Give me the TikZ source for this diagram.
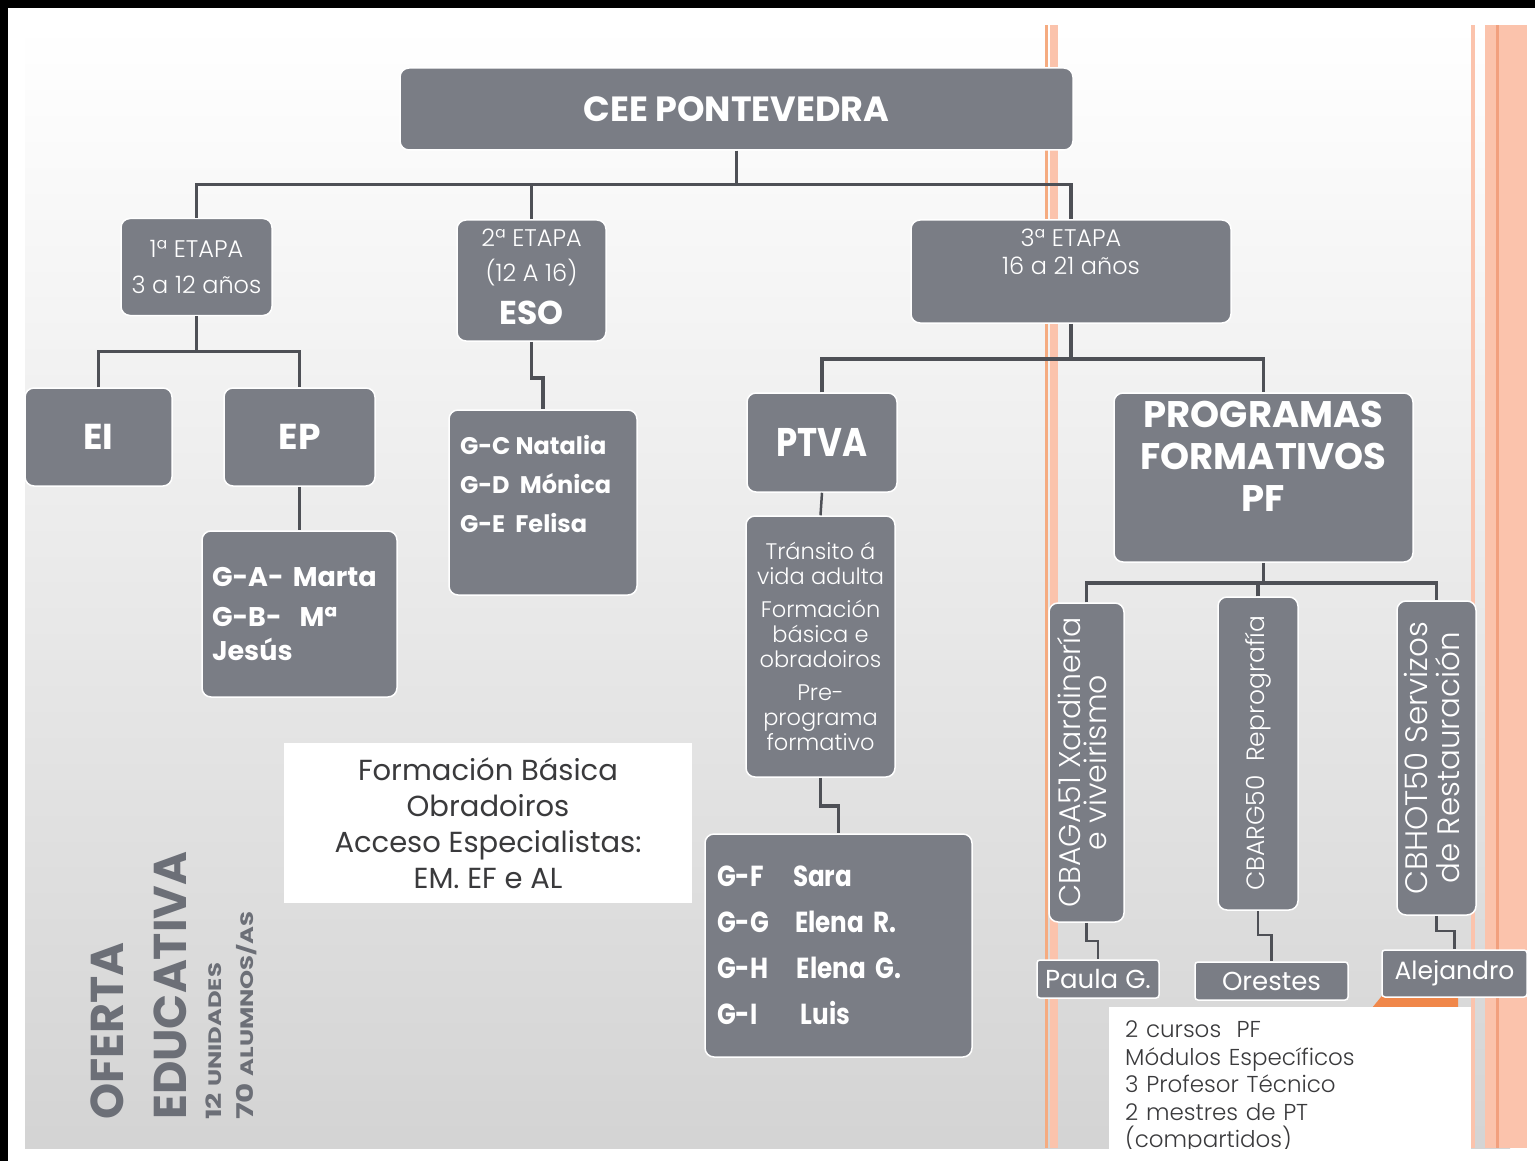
\documentclass[tikz,border=0pt]{standalone}
\usepackage{fontspec}
\setmainfont{Poppins}
\newfontfamily\narrowfont{Poppins}[FakeStretch=0.85]
\newfontfamily\widefont{Poppins}[FakeStretch=1.35]
\IfFontExistsTF{Poppins Light}{\newfontfamily\lightfont{Poppins Light}}{\newfontfamily\lightfont{Poppins}}
\usetikzlibrary{positioning}

\definecolor{boxgray}{HTML}{7A7D85}
\definecolor{linegray}{HTML}{4E5056}
\definecolor{textdark}{HTML}{3A3A3C}
\definecolor{peach}{HTML}{FBC3AC}
\definecolor{peachdark}{HTML}{F2A07E}
\definecolor{orangetab}{HTML}{F0874A}
\definecolor{ofertagray}{HTML}{6C6F77}

\tikzset{
  box/.style={draw=white, line width=1.5pt, fill=boxgray, rounded corners=9pt,
    text=white, inner sep=0pt, align=center},
  conn/.style={draw=linegray, line width=3.5pt},
  thinconn/.style={draw=linegray, line width=2.5pt},
  lighttxt/.style={font=\lightfont\fontsize{24}{36}\selectfont},
  bigtxt/.style={font=\fontsize{36}{42}\selectfont\bfseries},
  grouptxt/.style={font=\fontsize{27}{40}\selectfont\bfseries, align=left},
  namebox/.style={box, rounded corners=3pt, font=\fontsize{26}{28}\selectfont},
  whitenote/.style={fill=white, inner sep=0pt, text=textdark, align=center}
}

\begin{document}
\begin{tikzpicture}[x=1pt, y=-1pt]
    \useasboundingbox (0,0) rectangle (1535,1161);
    % Background
    \fill[white] (0,0) rectangle (1535,1161);
    \shade[top color=white, bottom color=black!17] (25,25) rectangle (1510,1148);
    \fill[black] (0,0) rectangle (1535,8);
    \fill[black] (0,0) rectangle (8,1161);
    % Orange stripes
    \fill[orangetab!70] (1045,25) rectangle (1048,1148);
    \fill[peach] (1050,25) rectangle (1058,1148);
    \fill[peach] (1471,25) rectangle (1475,1148);
    \fill[peach] (1485,25) rectangle (1527,1148);
    \fill[peachdark] (1496,25) rectangle (1499,1148);

    % Nodes
    \node (cee) [box, minimum width=673, minimum height=82, font=\fontsize{35}{40}\selectfont\bfseries] at (736.5,109) {CEE PONTEVEDRA};
    \node (e1) [box, lighttxt, minimum width=151, minimum height=97] at (196.5,267) {1ª ETAPA\\3 a 12 años};
    \node (e2) [box, lighttxt, minimum width=149, minimum height=121] at (531.5,280.5) {\parbox[c][121pt][t]{140pt}{\centering\fontsize{24}{35}\selectfont\vspace{9pt}2ª ETAPA\\(12 A 16)\\[8pt]{\normalfont\fontsize{33}{36}\selectfont\bfseries ESO}}};
    \node (e3) [box, lighttxt, minimum width=320, minimum height=103] at (1071,271.5) {\parbox[c][103pt][t]{300pt}{\centering\fontsize{24}{28}\selectfont\vspace{9pt}3ª ETAPA\\16 a 21 años}};

    \node (ei) [box, bigtxt, minimum width=147, minimum height=98] at (98.5,437) {EI};
    \node (ep) [box, bigtxt, minimum width=151, minimum height=98] at (299.5,437) {EP};
    \node (ga) [box, grouptxt, minimum width=195, minimum height=166, text width=175] at (299.5,614) {G-A- Marta\\G-B-\ \ Mª\\[-6pt]Jesús};
    \node (gc) [box, minimum width=188, minimum height=185] at (543,502.5) {\parbox[c][185pt][t]{166pt}{\raggedright\fontsize{24}{39}\selectfont\bfseries\vspace{25pt}G-C Natalia\\G-D\ \ Mónica\\G-E\ \ Felisa}};

    \node (ptva) [box, font=\narrowfont\fontsize{40}{44}\selectfont\bfseries, minimum width=150, minimum height=99] at (822,442.5) {PTVA};
    \node (pf) [box, minimum width=299, minimum height=169] at (1263.5,477.5) {\parbox[c][169pt][t]{290pt}{\centering\fontsize{37}{42}\selectfont\bfseries\vspace{8pt}PROGRAMAS\\FORMATIVOS\\PF}};

    \node (trans) [box, font=\lightfont\fontsize{22.5}{25}\selectfont, minimum width=149, minimum height=261] at (820.5,646.5) {Tránsito á\\vida adulta\\[8pt]Formación\\básica e\\obradoiros\\[8pt]Pre-\\programa\\formativo};
    \node (gf) [box, grouptxt, font=\narrowfont\fontsize{29}{46}\selectfont\bfseries, minimum width=267, minimum height=223, text width=243] at (838.5,945.5) {\makebox[76pt][l]{G-F}Sara\\\makebox[78pt][l]{G-G}Elena R.\\\makebox[80pt][l]{G-H}Elena G.\\\makebox[84pt][l]{G-I}Luis};

    \node (fb) [whitenote, font=\fontsize{29}{36}\selectfont, minimum width=408, minimum height=160] at (488,823) {Formación Básica\\Obradoiros\\Acceso Especialistas:\\EM. EF e AL};

    \node (cbaga) [box, minimum width=75, minimum height=319] at (1086.5,762.5) {\rotatebox{90}{\lightfont\fontsize{30}{31}\selectfont\begin{tabular}{@{}c@{}}CBAGA51 Xardinería\\[-6pt]e viveirismo\end{tabular}}};
    \node (cbarg) [box, minimum width=80, minimum height=313] at (1258,753.5) {\rotatebox{90}{\lightfont\fontsize{25}{31}\selectfont CBARG50\ \ Reprografía}};
    \node (cbhot) [box, minimum width=79, minimum height=314] at (1436.5,758) {\rotatebox{90}{\lightfont\fontsize{31}{36}\selectfont\begin{tabular}{@{}c@{}}CBHOT50 Servizos\\[-4pt]de Restauración\end{tabular}}};

    \fill[orangetab] (1372,1008) -- (1385,992) -- (1458,992) -- (1458,1008) -- cycle;
    \node (paula) [namebox, minimum width=122, minimum height=38] at (1098,979) {Paula G.};
    \node (orestes) [namebox, minimum width=153, minimum height=38] at (1271.5,981) {Orestes};
    \node (alej) [namebox, font=\fontsize{25}{28}\selectfont, minimum width=145, minimum height=47] at (1454.5,973.5) {Alejandro};

    \begin{scope}
        \clip (1100,1000) rectangle (1480,1148);
        \node (note) [whitenote, anchor=north west, align=left, font=\lightfont\fontsize{23}{27.5}\selectfont, minimum width=360, minimum height=160, text width=330, inner xsep=16, inner ysep=8] at (1109,1007) {2 cursos\ \ PF\\Módulos Específicos\\3 Profesor Técnico\\2 mestres de PT\\(compartidos)};
    \end{scope}

    \node (oferta) [anchor=south west, inner sep=0pt, text=ofertagray] at (91,1120) {\rotatebox{90}{\vbox{%
        \hbox{\fontsize{46}{46}\selectfont\bfseries OFERTA}%
        \baselineskip=63pt\hbox{\fontsize{46}{46}\selectfont\bfseries EDUCATIVA}%
        \baselineskip=35pt\hbox{\widefont\bfseries\fontsize{21}{21}\selectfont 12 \fontsize{18}{18}\selectfont UNIDADES}%
        \baselineskip=32pt\hbox{\widefont\bfseries\fontsize{23}{23}\selectfont 70 \fontsize{18}{18}\selectfont ALUMNOS/AS}}}};

    % Connectors
    \draw[conn] (cee.south) -- ++(0,34) coordinate (bus);
    \draw[conn] (e1.north) |- (bus) -| (e3.north);
    \draw[conn] (e2.north) -- (e2.north |- bus);
    \draw[conn] (e1.south) -- ++(0,35) coordinate (b1);
    \draw[conn] (ei.north) |- (b1) -| (ep.north);
    \draw[conn] (ep.south) -- (ga.north);
    \draw[conn] (e2.south) -- ++(0,36) -| (gc.north);
    \draw[conn] (e3.south) -- ++(0,35) coordinate (b3);
    \draw[conn] (ptva.north) |- (b3) -| (pf.north);
    \draw[thinconn] (ptva.south) -- (trans.north);
    \draw[conn] (trans.south) -- ++(0,28) -| (gf.north);
    \draw[conn] (pf.south) -- ++(0,20) coordinate (b4);
    \draw[conn] (cbaga.north) |- (b4) -| (cbhot.north);
    \draw[conn] (cbarg.north) -- (cbarg.north |- b4);
    \draw[thinconn] (cbaga.south) -- ++(0,18) -| (paula.north);
    \draw[thinconn] (cbarg.south) -- ++(0,24) -| (orestes.north);
    \draw[thinconn] (cbhot.south) -- ++(0,15) -| (alej.north);
\end{tikzpicture}
\end{document}
